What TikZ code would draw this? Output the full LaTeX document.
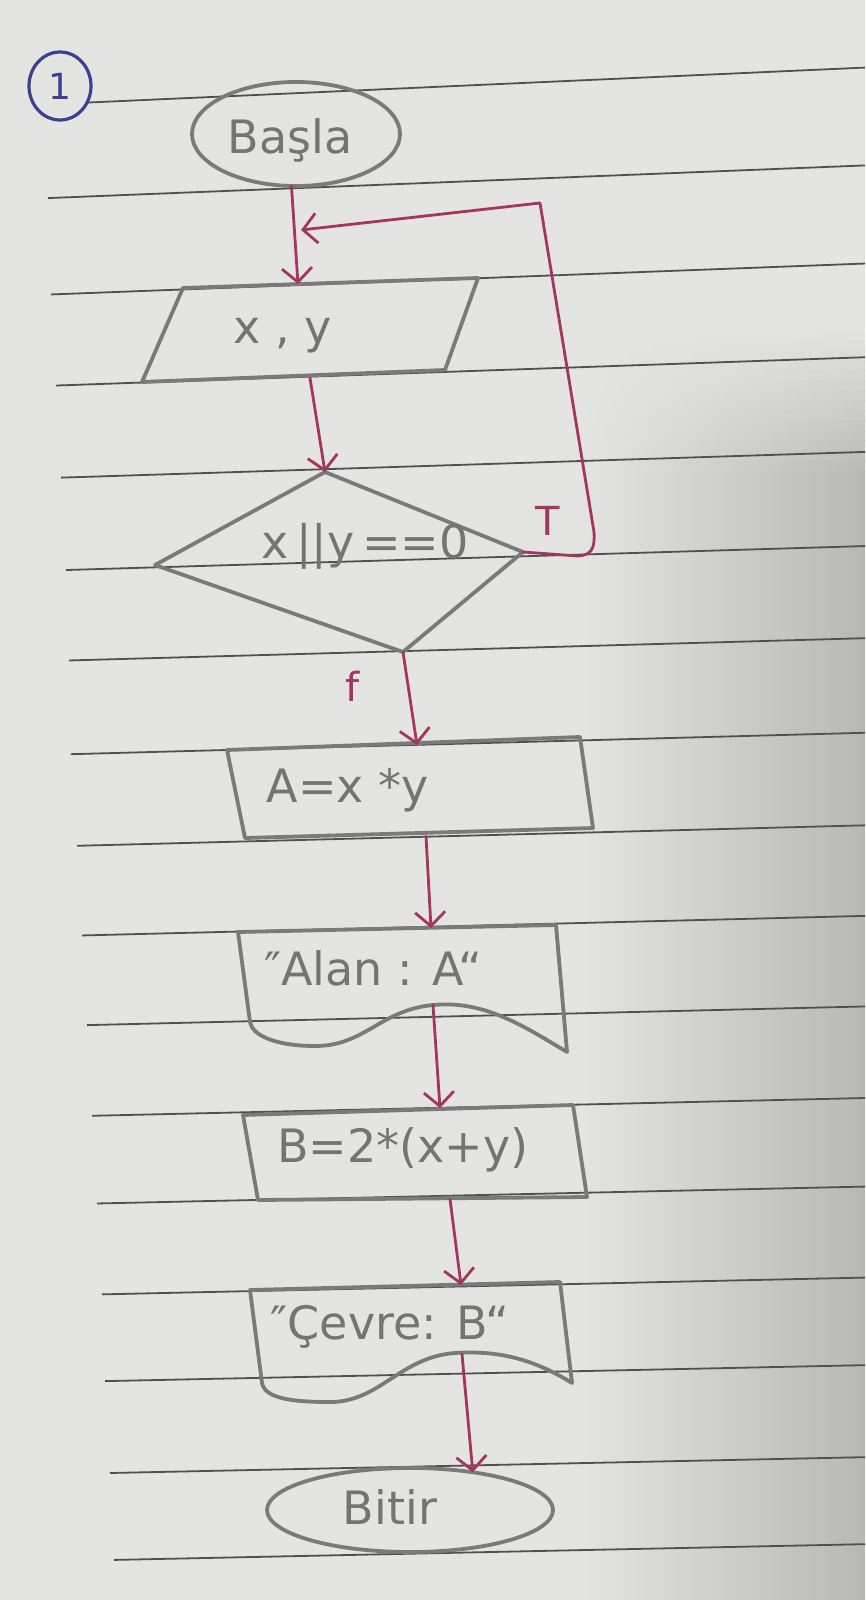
\documentclass[tikz,border=0pt]{standalone}
\usepackage{fontspec}
\setmainfont{DejaVu Sans}
\usetikzlibrary{arrows.meta,shapes.geometric}
\definecolor{paperL}{HTML}{E4E4E2}
\definecolor{paperD}{HTML}{B8B8B6}
\definecolor{rulec}{HTML}{505050}
\definecolor{pencil}{HTML}{7A7A7A}
\definecolor{pentext}{HTML}{747474}
\definecolor{redink}{HTML}{A3365F}
\definecolor{blueink}{HTML}{3C408E}
\tikzset{
  shapeline/.style={draw=pencil, line width=3.8pt, line join=round, line cap=round},
  termshape/.style={shapeline, ellipse, inner sep=0pt, outer sep=0pt},
  flowarrow/.style={draw=redink, line width=2.8pt, line cap=round, line join=round,
     -{Straight Barb[length=14pt,width=30pt]}},
  handtext/.style={text=pentext, font=\fontsize{46}{52}\selectfont, inner sep=0pt},
  redtext/.style={text=redink, font=\fontsize{40}{46}\selectfont, inner sep=0pt},
  ruleline/.style={draw=rulec, line width=1.8pt},
}
\begin{document}
\begin{tikzpicture}[x=1pt,y=-1pt]
\useasboundingbox (0,0) rectangle (865,1600);
% paper
\fill[paperL] (0,0) rectangle (865,1600);
\foreach \i in {0,...,13}{
  \pgfmathsetmacro\p{100*(\i+1)/15}
  \colorlet{tmpc}{paperD!\p!paperL}
  \shade[left color=paperL, right color=tmpc] (580,{330+10*\i}) rectangle (865,{341+10*\i});
}
\shade[left color=paperL, right color=paperD] (580,470) rectangle (865,1600);
% ruled lines
\foreach \xl/\yc/\s in {88/93/-0.045, 48/188/-0.04, 51/285/-0.038, 56/377/-0.035,
   61/470/-0.032, 66/563/-0.03, 69/654/-0.028, 71/748/-0.027, 77/840/-0.026,
   82/930/-0.025, 87/1020/-0.024, 92/1111/-0.023, 97/1199/-0.022, 102/1290/-0.022,
   105/1377/-0.021, 110/1469/-0.021, 114/1556/-0.021}{
  \draw[ruleline] (\xl,{\yc+\s*(\xl-300)}) -- (865,{\yc+\s*565});
}
% number circle
\node[draw=blueink, line width=3.2pt, ellipse, minimum width=62pt, minimum height=68pt,
      inner sep=0pt, text=blueink, font=\fontsize{36}{40}\selectfont] (num) at (60,86) {1};
% Basla
\node[termshape, minimum width=208pt, minimum height=104pt] (basla) at (296,134) {};
\node[handtext] (baslaT) at (290,140) {Başla};
% parallelogram
\coordinate (pTL) at (183,288);
\coordinate (pTR) at (478,278);
\coordinate (pBR) at (445,370);
\coordinate (pBL) at (142,382);
\draw[shapeline] (pTL) -- (pTR) -- (pBR) -- (pBL) -- cycle;
\node[handtext] (xy) at (283,336) {x , y};
\coordinate (parIn) at (298,284);
\coordinate (parOut) at (310,378);
% diamond
\coordinate (dT) at (325,472);
\coordinate (dR) at (523,552);
\coordinate (dB) at (403,652);
\coordinate (dL) at (155,565);
\draw[shapeline] (dT) -- (dR) -- (dB) -- (dL) -- cycle;
\node[handtext] (cond) at (365,546) {x\,||y\,==0};
\node[redtext] (tlab) at (548,521) {T};
\node[redtext] (flab) at (353,686) {f};
% box A
\coordinate (aTL) at (227,750);
\coordinate (aTR) at (580,737);
\coordinate (aBR) at (593,828);
\coordinate (aBL) at (245,838);
\draw[shapeline] (aTL) -- (aTR) -- (aBR) -- (aBL) -- cycle;
\node[handtext] (atext) at (348,790) {A=x *y};
\coordinate (aIn) at (417,745);
\coordinate (aOut) at (426,836);
% document Alan
\draw[shapeline] (238,932) -- (556,925) -- (567,1052)
   .. controls (525,1027) and (485,1000) .. (433,1005)
   .. controls (380,1010) and (365,1046) .. (315,1046)
   .. controls (275,1046) and (252,1035) .. (250,1022) -- cycle;
\node[handtext] (alan) at (373,968) {″Alan : A“};
\coordinate (alanIn) at (431,928);
\coordinate (alanOut) at (433,1005);
% box B
\coordinate (bTL) at (243,1115);
\coordinate (bTR) at (573,1105);
\coordinate (bBR) at (587,1197);
\coordinate (bBL) at (258,1200);
\draw[shapeline] (bTL) -- (bTR) -- (bBR) -- (bBL) -- cycle;
\node[handtext] (btext) at (403,1150) {B=2*(x+y)};
\coordinate (bIn) at (440,1108);
\coordinate (bOut) at (450,1199);
% document Cevre
\draw[shapeline] (250,1290) -- (560,1282) -- (572,1383)
   .. controls (535,1360) and (500,1350) .. (455,1353)
   .. controls (400,1357) and (380,1402) .. (330,1402)
   .. controls (290,1402) and (265,1398) .. (262,1383) -- cycle;
\node[handtext] (cevre) at (390,1327) {″Çevre: B“};
\coordinate (cevreIn) at (461,1285);
\coordinate (cevreOut) at (462,1354);
% Bitir
\node[termshape, minimum width=286pt, minimum height=84pt] (bitir) at (410,1510) {};
\node[handtext] (bitirT) at (390,1507) {Bitir};
% connectors
\draw[flowarrow] (basla.265) -- (parIn);
\draw[flowarrow] (dR) -- (578,556) .. controls (592,555) and (595,548) .. (594,532)
   -- (540,203) -- (301,230);
\draw[flowarrow] (parOut) -- (dT);
\draw[flowarrow] (dB) -- (aIn);
\draw[flowarrow] (aOut) -- (alanIn);
\draw[flowarrow] (alanOut) -- (bIn);
\draw[flowarrow] (bOut) -- (cevreIn);
\draw[flowarrow] (cevreOut) -- (bitir.31);
\end{tikzpicture}
\end{document}
